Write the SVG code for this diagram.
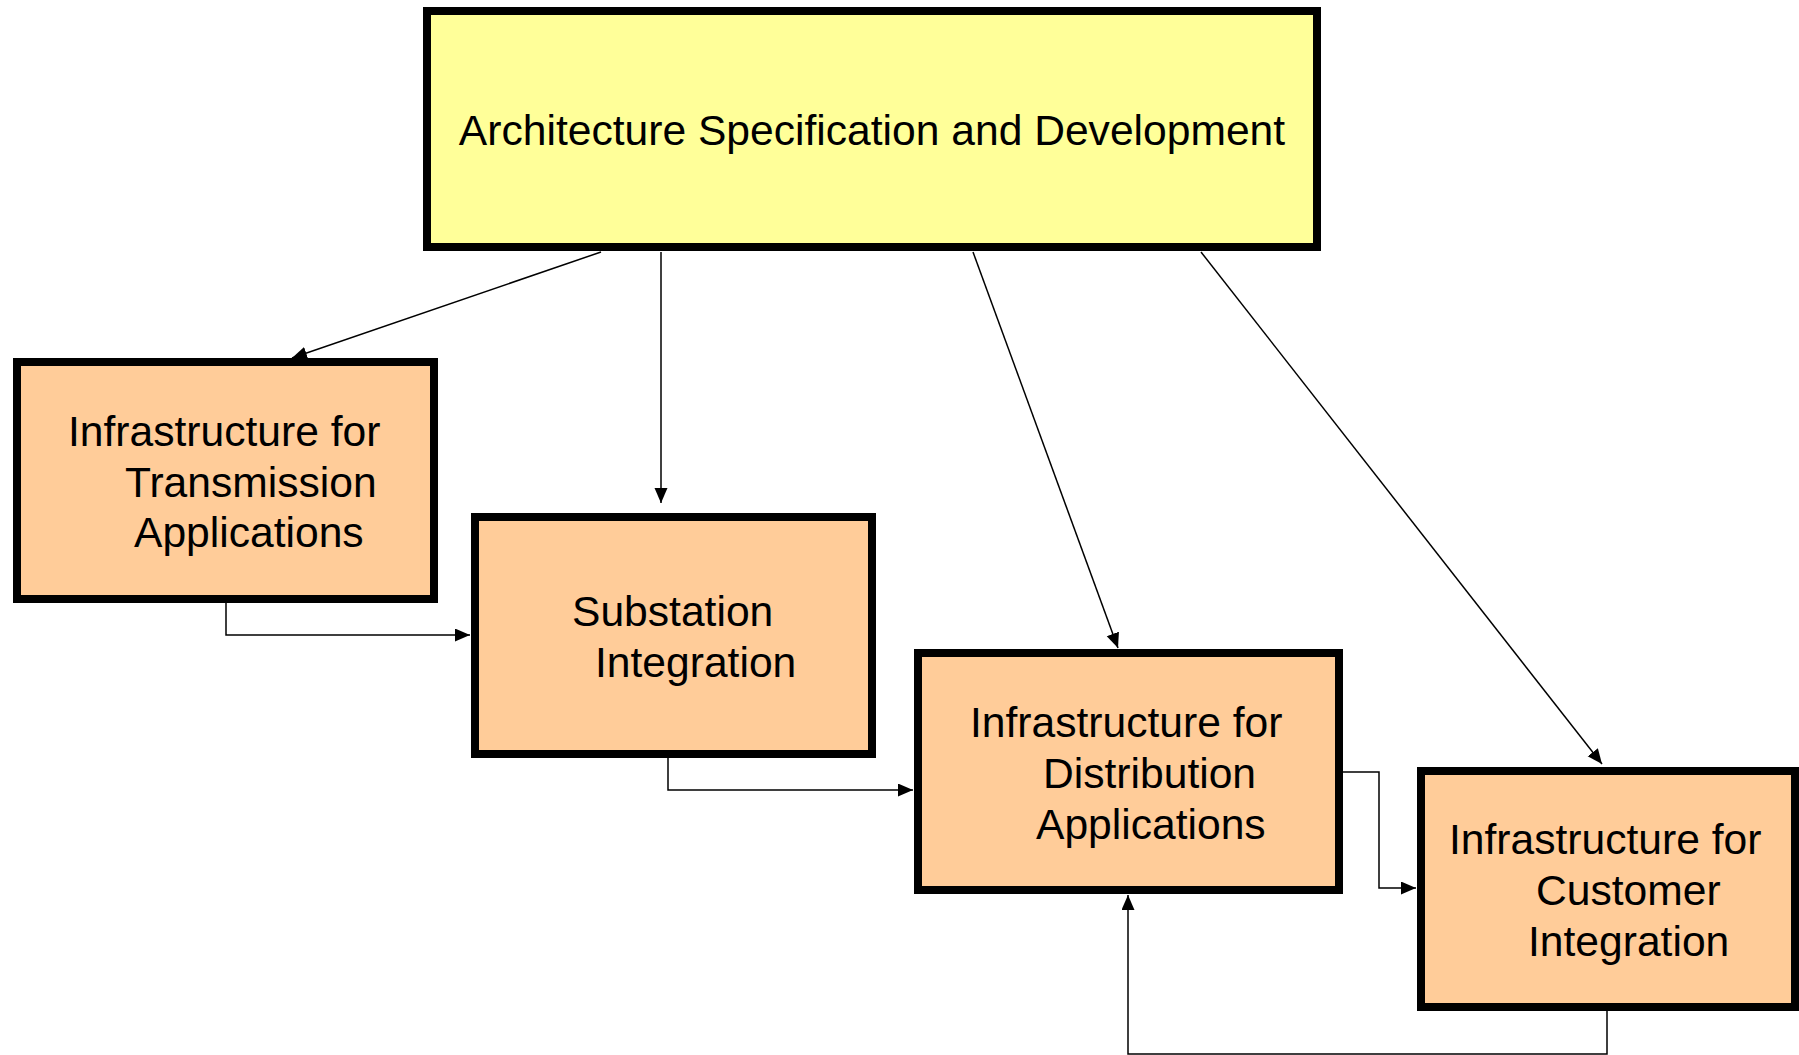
<svg xmlns="http://www.w3.org/2000/svg" width="1799" height="1055" viewBox="0 0 1799 1055">
<style>
.box{stroke:#000;stroke-width:8}
.top{fill:#FFFF99}
.org{fill:#FFCC99}
.lbl{font-family:"Liberation Sans",Arial,Helvetica,sans-serif;font-size:42.6px;fill:#000}
.con{fill:none;stroke:#000;stroke-width:1.5}
</style>
<defs>
<marker id="ah" markerUnits="userSpaceOnUse" markerWidth="16" markerHeight="14" refX="15" refY="6.5" orient="auto">
<path d="M0,0 L15,6.5 L0,13 z" fill="#000"/>
</marker>
</defs>
<rect width="1799" height="1055" fill="#fff"/>
<g id="connectors">
<line class="con" x1="601" y1="252" x2="292" y2="358" marker-end="url(#ah)"/>
<line class="con" x1="661" y1="252" x2="661" y2="503" marker-end="url(#ah)"/>
<line class="con" x1="973" y1="252" x2="1118" y2="648" marker-end="url(#ah)"/>
<line class="con" x1="1201" y1="252" x2="1602" y2="764" marker-end="url(#ah)"/>
<path class="con" d="M226 603 V635 H470" marker-end="url(#ah)"/>
<path class="con" d="M668 758 V790 H913" marker-end="url(#ah)"/>
<path class="con" d="M1343 772 H1379 V888 H1416" marker-end="url(#ah)"/>
<path class="con" d="M1607 1011 V1054 H1128 V895" marker-end="url(#ah)"/>
</g>
<g id="node-architecture">
<rect class="box top" x="427" y="11" width="890" height="236"/>
<text class="lbl" x="872" y="145" text-anchor="middle">Architecture Specification and Development</text>
</g>
<g id="node-transmission">
<rect class="box org" x="17" y="362" width="417" height="237"/>
<text class="lbl"><tspan x="68" y="446">Infrastructure for</tspan><tspan x="125" y="497">Transmission</tspan><tspan x="134" y="547">Applications</tspan></text>
</g>
<g id="node-substation">
<rect class="box org" x="475" y="517" width="397" height="237"/>
<text class="lbl"><tspan x="572" y="626">Substation</tspan><tspan x="595" y="677">Integration</tspan></text>
</g>
<g id="node-distribution">
<rect class="box org" x="918" y="653" width="421" height="237"/>
<text class="lbl"><tspan x="970" y="737">Infrastructure for</tspan><tspan x="1043" y="788">Distribution</tspan><tspan x="1036" y="839">Applications</tspan></text>
</g>
<g id="node-customer">
<rect class="box org" x="1421" y="771" width="374" height="236"/>
<text class="lbl"><tspan x="1449" y="854">Infrastructure for</tspan><tspan x="1536" y="905">Customer</tspan><tspan x="1528" y="956">Integration</tspan></text>
</g>
</svg>
